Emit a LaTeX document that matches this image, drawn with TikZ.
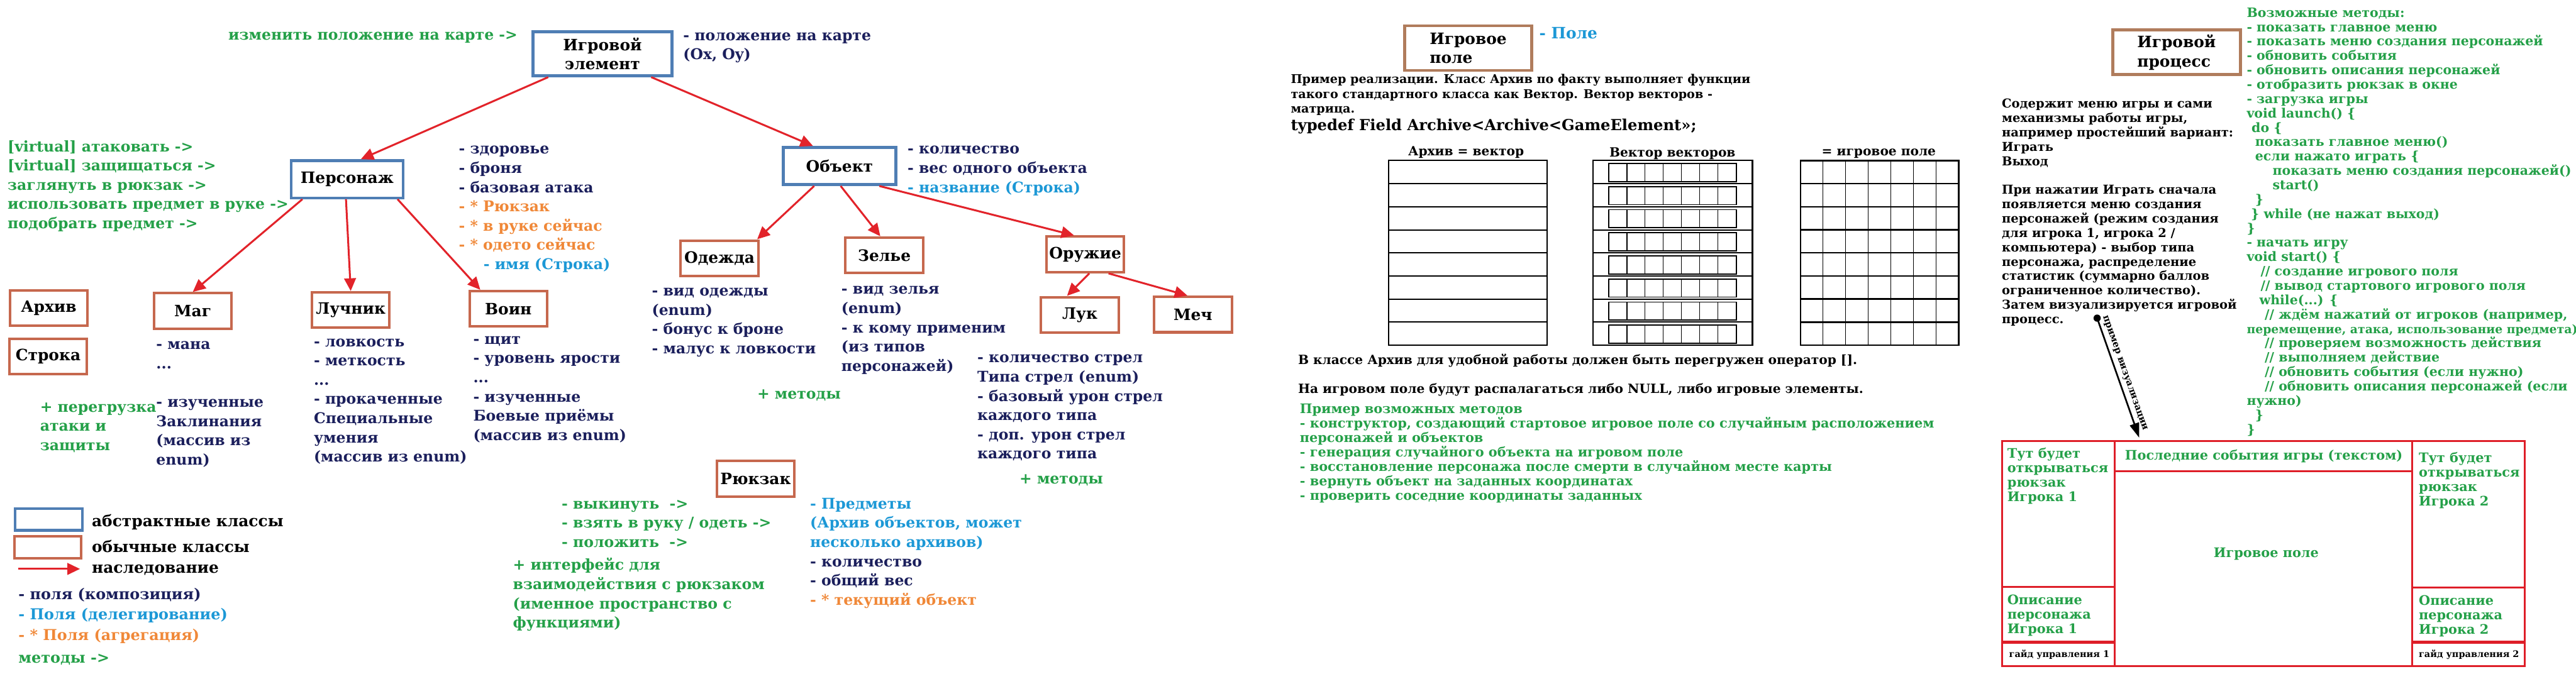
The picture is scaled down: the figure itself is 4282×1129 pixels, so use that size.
\documentclass[tikz,border=0pt]{standalone}
\usepackage{fontspec}
\setmainfont{DejaVu Serif}
\usetikzlibrary{arrows.meta,calc}
\definecolor{cnavy}{RGB}{27,31,92}
\definecolor{cgreen}{RGB}{36,160,72}
\definecolor{corange}{RGB}{240,136,56}
\definecolor{clblue}{RGB}{28,152,214}
\definecolor{cabs}{RGB}{79,126,180}
\definecolor{cobj}{RGB}{198,104,78}
\definecolor{carrow}{RGB}{226,35,42}
\definecolor{cbrown}{RGB}{176,124,92}
\definecolor{cframe}{RGB}{222,30,40}
\newcommand\fsz[2]{\fontsize{#1}{#2}\selectfont\bfseries\lineskiplimit=-20pt\relax}
\newcommand\pfont{\fsz{7}{9.1}}
\newcommand\lgfont{\fsz{7.1}{9.67}}
\newcommand\bxfont{\fsz{7.4}{9.1}}
\newcommand\pafont{\fsz{5.7}{6.97}}
\newcommand\mfont{\fsz{6.0}{6.83}}
\newcommand\gmfont{\fsz{6.2}{6.83}}
\newcommand\cfont{\fsz{6.1}{6.8}}
\newcommand\dfont{\fsz{5.8}{6.8}}
\newcommand\tdfont{\fsz{7.2}{8.5}}
\newcommand\smfont{\fsz{4.3}{5.5}}
\newcommand\vzfont{\fsz{4.4}{5}}
\newcommand\indt[1]{\hspace*{#1mm}}
\tikzset{
  absbox/.style={draw=cabs, line width=1.3pt, fill=white, inner sep=0pt, font=\bxfont, align=center},
  objbox/.style={draw=cobj, line width=1.2pt, fill=white, inner sep=0pt, font=\bxfont, align=center, minimum width=12.9mm, minimum height=5.9mm},
  brbox/.style={draw=cbrown, line width=1.4pt, fill=white, inner sep=0pt, font=\bxfont, align=left},
  inh/.style={draw=carrow, line width=0.9pt, -{Triangle[length=6pt,width=5.5pt]}},
  txt/.style={anchor=north west, inner sep=0pt, align=left},
  one/.style={anchor=west, inner sep=0pt},
  gridline/.style={line width=0.6pt},
  frameline/.style={draw=cframe, line width=0.9pt},
}
\begin{document}
\begin{tikzpicture}[x=0.1mm,y=-0.1mm]
\useasboundingbox (0,0) rectangle (4282,1129);
\fill[white] (0,0) rectangle (4282,1129);

% ---------- class boxes ----------
\node[absbox, minimum width=23.1mm, minimum height=7.3mm] (ge) at (1001.5,89.5) {Игровой\\элемент};
\node[absbox, minimum width=18.6mm, minimum height=6.2mm] (pers) at (577,298) {Персонаж};
\node[absbox, minimum width=18.7mm, minimum height=6.2mm] (obj) at (1395.5,276) {Объект};
\node[objbox] (arch) at (81,512.5) {Архив};
\node[objbox] (str) at (80,593) {Строка};
\node[objbox] (mag) at (320.5,517) {Маг};
\node[objbox] (luch) at (583,515.5) {Лучник};
\node[objbox] (voin) at (845,513.5) {Воин};
\node[objbox] (odez) at (1196,429.5) {Одежда};
\node[objbox] (zelie) at (1470,424.5) {Зелье};
\node[objbox] (oruz) at (1804,423) {Оружие};
\node[objbox] (luk) at (1795,523.5) {Лук};
\node[objbox] (mech) at (1983,523) {Меч};
\node[objbox] (ruk) at (1256,796) {Рюкзак};

% ---------- inheritance arrows ----------
\draw[inh] ($(ge.south west)!0.117!(ge.south east)$) -- ($(pers.north west)!0.62!(pers.north east)$);
\draw[inh] ($(ge.south west)!0.844!(ge.south east)$) -- ($(obj.north west)!0.27!(obj.north east)$);
\draw[inh] ($(pers.south west)!0.11!(pers.south east)$) -- ($(mag.north west)!0.5!(mag.north east)$);
\draw[inh] ($(pers.south west)!0.49!(pers.south east)$) -- ($(luch.north west)!0.5!(luch.north east)$);
\draw[inh] ($(pers.south west)!0.94!(pers.south east)$) -- ($(voin.north west)!0.15!(voin.north east)$);
\draw[inh] ($(obj.south west)!0.28!(obj.south east)$) -- ($(odez.north west)!0.97!(odez.north east)$);
\draw[inh] ($(obj.south west)!0.51!(obj.south east)$) -- ($(zelie.north west)!0.45!(zelie.north east)$);
\draw[inh] ($(obj.south west)!0.845!(obj.south east)$) -- ($(oruz.north west)!0.36!(oruz.north east)$);
\draw[inh] ($(oruz.south west)!0.55!(oruz.south east)$) -- ($(luk.north west)!0.34!(luk.north east)$);
\draw[inh] ($(oruz.south west)!0.79!(oruz.south east)$) -- ($(mech.north west)!0.43!(mech.north east)$);

% ---------- texts of the class diagram ----------
\node[one, font=\pfont, text=cgreen] (tmove) at (379,62) {изменить положение на карте ->};
\node[txt, font=\pfont, text=cnavy] (tpos) at (1135,44) {\strut- положение на карте\\(Ox, Oy)};
\node[txt, font=\pfont, text=cgreen] (tmeth) at (12,229) {\strut{[virtual]} атаковать ->\\{[virtual]} защищаться ->\\заглянуть в рюкзак ->\\использовать предмет в руке ->\\подобрать предмет ->};
\node[txt, font=\pfont] (tpers) at (762,233) {\strut\textcolor{cnavy}{- здоровье}\\\textcolor{cnavy}{- броня}\\\textcolor{cnavy}{- базовая атака}\\\textcolor{corange}{- * Рюкзак}\\\textcolor{corange}{- * в руке сейчас}\\\textcolor{corange}{- * одето сейчас}\\\indt{4.1}\textcolor{clblue}{- имя (Строка)}};
\node[txt, font=\pfont] (tobj) at (1508,233) {\strut\textcolor{cnavy}{- количество}\\\textcolor{cnavy}{- вес одного объекта}\\\textcolor{clblue}{- название (Строка)}};
\node[txt, font=\pfont, text=cnavy] (todez) at (1083,469) {\strut- вид одежды\\(enum)\\- бонус к броне\\- малус к ловкости};
\node[txt, font=\pfont, text=cnavy] (tzel) at (1398,466) {\strut- вид зелья\\(enum)\\- к кому применим\\(из типов\\персонажей)};
\node[txt, font=\pfont, text=cnavy] (toruz) at (1624,580) {\strut- количество стрел\\Типа стрел (enum)\\- базовый урон стрел\\каждого типа\\- доп. урон стрел\\каждого типа};
\node[one, font=\pfont, text=cgreen] (twm) at (1694,798) {+ методы};
\node[one, font=\pfont, text=cgreen] (tom) at (1258,657) {+ методы};
\node[txt, font=\pfont, text=cnavy] (tmag) at (259,558) {\strut- мана\\...\\[9.1pt]- изученные\\Заклинания\\(массив из\\enum)};
\node[txt, font=\pfont, text=cnavy] (tluch) at (521,553) {\strut- ловкость\\- меткость\\...\\- прокаченные\\Специальные\\умения\\(массив из enum)};
\node[txt, font=\pfont, text=cnavy] (tvoin) at (786,549) {\strut- щит\\- уровень ярости\\...\\- изученные\\Боевые приёмы\\(массив из enum)};
\node[txt, font=\pfont, text=cgreen] (tover) at (66,662) {\strut+ перегрузка\\атаки и\\защиты};
\node[txt, font=\pfont, text=cgreen] (trm) at (933,823) {\strut- выкинуть\ \ ->\\- взять в руку / одеть ->\\- положить\ \ ->};
\node[txt, font=\pfont, text=cgreen] (tri) at (852,925) {\strut+ интерфейс для\\взаимодействия с рюкзаком\\(именное пространство с\\функциями)};
\node[txt, font=\pfont] (trf) at (1346,823) {\strut\textcolor{clblue}{- Предметы}\\\textcolor{clblue}{(Архив объектов, может}\\\textcolor{clblue}{несколько архивов)}\\\textcolor{cnavy}{- количество}\\\textcolor{cnavy}{- общий вес}\\\textcolor{corange}{- * текущий объект}};

% ---------- legend ----------
\node[draw=cabs, line width=1.3pt, minimum width=11.2mm, minimum height=3.6mm, inner sep=0pt] (lgabs) at (81,864) {};
\node[draw=cobj, line width=1.2pt, minimum width=11.1mm, minimum height=3.6mm, inner sep=0pt] (lgobj) at (79.5,910) {};
\coordinate (lga1) at (30,946);
\coordinate (lga2) at (133,946);
\draw[inh] (lga1) -- (lga2);
\node[one, font=\bxfont] (lgt1) at (152,868) {абстрактные классы};
\node[one, font=\bxfont] (lgt2) at (152,909) {обычные классы};
\node[one, font=\bxfont] (lgt3) at (152,948) {наследование};
\node[txt, font=\lgfont] (lgf) at (30,972) {\strut\textcolor{cnavy}{- поля (композиция)}\\\textcolor{clblue}{- Поля (делегирование)}\\\textcolor{corange}{- * Поля (агрегация)}\\[1pt]\textcolor{cgreen}{методы ->}};

% ---------- game field section ----------
\node[brbox, minimum width=21.1mm, minimum height=7.4mm] (fieldbox) at (2440.5,80) {Игровое\\поле};
\node[one, font=\bxfont, text=clblue] (tpole) at (2558,55) {- Поле};
\node[txt, font=\pafont] (tpara) at (2145,121) {\strut Пример реализации. Класс Архив по факту выполняет функции\\такого стандартного класса как Вектор. Вектор векторов -\\матрица.};
\node[one, font=\tdfont] (ttd) at (2145,210) {typedef Field Archive<Archive<GameElement>>;};
\node[font=\mfont, inner sep=0pt] (tg1) at (2437,253) {Архив = вектор};
\node[font=\mfont, inner sep=0pt] (tg2) at (2780,255) {Вектор векторов};
\node[font=\mfont, inner sep=0pt] (tg3) at (3123,255) {= игровое поле};

\draw[gridline] (2308,267) rectangle (2572,574);
\foreach \i in {1,...,7} \draw[gridline] (2308,{267+\i*38.375}) -- (2572,{267+\i*38.375});
\draw[gridline] (2648,267) rectangle (2913,574);
\foreach \i in {1,...,7} \draw[gridline] (2648,{267+\i*38.375}) -- (2913,{267+\i*38.375});
\foreach \i in {0,...,7} {
  \draw[line width=0.5pt] (2674,{272+\i*38.375}) rectangle (2886,{302+\i*38.375});
  \foreach \j in {1,...,6} \draw[line width=0.4pt] ({2674+\j*30.29},{272+\i*38.375}) -- ({2674+\j*30.29},{302+\i*38.375});
}
\draw[line width=0.7pt] (2993,267) rectangle (3256,574);
\foreach \i in {1,...,7} \draw[line width=0.7pt] (2993,{267+\i*38.375}) -- (3256,{267+\i*38.375});
\foreach \j in {1,...,6} \draw[line width=0.3pt] ({2993+\j*37.57},267) -- ({2993+\j*37.57},574);

\node[one, font=\mfont] (top) at (2157,600) {В классе Архив для удобной работы должен быть перегружен оператор [].};
\node[one, font=\mfont] (tnull) at (2157,648) {На игровом поле будут распалагаться либо NULL, либо игровые элементы.};
\node[txt, font=\gmfont, text=cgreen] (tfm) at (2160,670) {\strut Пример возможных методов\\- конструктор, создающий стартовое игровое поле со случайным расположением\\персонажей и объектов\\- генерация случайного объекта на игровом поле\\- восстановление персонажа после смерти в случайном месте карты\\- вернуть объект на заданных координатах\\- проверить соседние координаты заданных};

% ---------- game process section ----------
\node[brbox, minimum width=21.2mm, minimum height=7.4mm] (procbox) at (3618,87) {Игровой\\процесс};
\node[txt, font=\cfont, text=cgreen] (tcode) at (3734,11) {\strut Возможные методы:\\- показать главное меню\\- показать меню создания персонажей\\- обновить события\\- обновить описания персонажей\\- отобразить рюкзак в окне\\- загрузка игры\\void launch() \{\\\indt{0.8}do \{\\\indt{1.4}показать главное меню()\\\indt{1.4}если нажато играть \{\\\indt{4.3}показать меню создания персонажей()\\\indt{4.3}start()\\\indt{1.4}\}\\\indt{0.7}\} while (не нажат выход)\\\}\\- начать игру\\void start() \{\\\indt{2.3}// создание игрового поля\\\indt{2.3}// вывод стартового игрового поля\\\indt{2.1}while(...) \{\\\indt{3.0}// ждём нажатий от игроков (например,\\{\fontsize{5.6}{6.8}\selectfont перемещение, атака, использование предмета)}\\\indt{3.0}// проверяем возможность действия\\\indt{3.0}// выполняем действие\\\indt{3.0}// обновить события (если нужно)\\\indt{3.0}// обновить описания персонажей (если\\нужно)\\\indt{1.4}\}\\\}};
\node[txt, font=\dfont] (tdesc) at (3327,162) {\strut Содержит меню игры и сами\\механизмы работы игры,\\например простейший вариант:\\Играть\\Выход\\[6.8pt]При нажатии Играть сначала\\появляется меню создания\\персонажей (режим создания\\для игрока 1, игрока 2 /\\компьютера) - выбор типа\\персонажа, распределение\\статистик (суммарно баллов\\ограниченное количество).\\Затем визуализируется игровой\\процесс.};

\coordinate (vz1) at (3486,529);
\coordinate (vz2) at (3556,728);
\draw[line width=0.8pt, -{Triangle[length=7pt,width=4.5pt]}] (vz1) -- node[pos=0.48, sloped, above, font=\vzfont, inner sep=1.5pt] (tvz) {пример визуализации} (vz2);
\fill (vz1) circle[radius=0.6mm];

% screen layout
\draw[frameline] (3328,733) rectangle (4197,1108);
\draw[frameline] (3515,733) -- (3515,1108);
\draw[frameline] (4010,733) -- (4010,1108);
\draw[frameline] (3515,784) -- (4010,784);
\draw[frameline] (3328,976) -- (3515,976);
\draw[frameline, line width=1.5pt] (3328,1068) -- (3515,1068);
\draw[frameline] (4010,977) -- (4197,977);
\draw[frameline, line width=1.5pt] (4010,1068) -- (4197,1068);

\node[txt, font=\gmfont, text=cgreen] (tbp1) at (3336,744) {\strut Тут будет\\открываться\\рюкзак\\Игрока 1};
\node[txt, font=\gmfont, text=cgreen] (tbp2) at (4020,751) {\strut Тут будет\\открываться\\рюкзак\\Игрока 2};
\node[txt, font=\gmfont, text=cgreen] (tds1) at (3336,988) {\strut Описание\\персонажа\\Игрока 1};
\node[txt, font=\gmfont, text=cgreen] (tds2) at (4020,989) {\strut Описание\\персонажа\\Игрока 2};
\node[one, font=\smfont] (tgd1) at (3339,1088) {гайд управления 1};
\node[one, font=\smfont] (tgd2) at (4020,1089) {гайд управления 2};
\node[font=\gmfont, text=cgreen, inner sep=0pt] (tev) at (3763,759) {Последние события игры (текстом)};
\node[font=\gmfont, text=cgreen, inner sep=0pt] (tfield) at (3767,921) {Игровое поле};
\end{tikzpicture}
\end{document}
